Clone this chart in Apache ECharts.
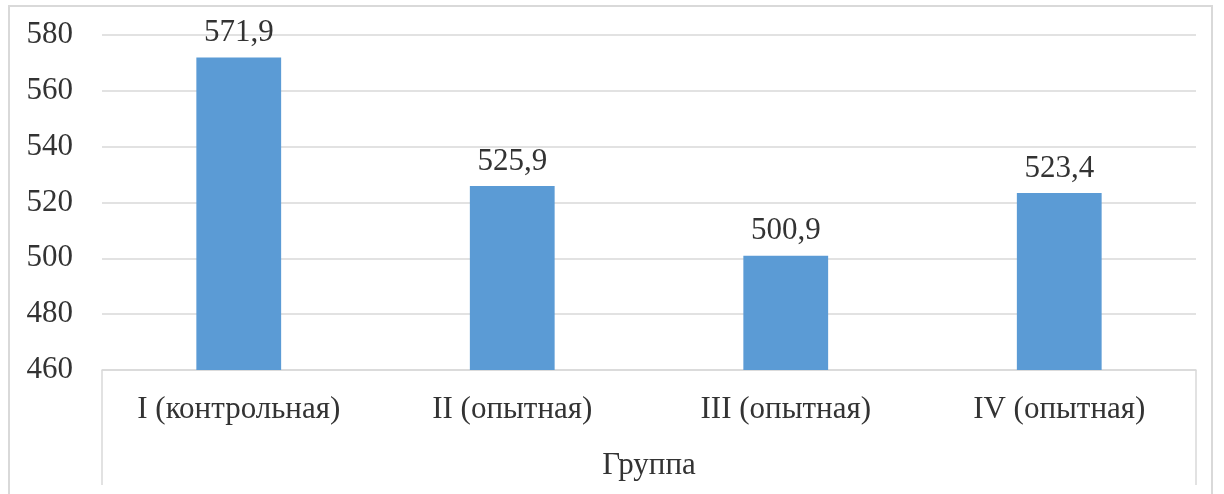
<!DOCTYPE html>
<html><head><meta charset="utf-8">
<script src="https://cdn.jsdelivr.net/npm/echarts@6/dist/echarts.min.js"></script>
<style>
html,body{margin:0;padding:0;background:#fff;}
#frame{position:absolute;left:8px;top:5px;width:1205px;height:520px;border:2px solid #d9d9d9;box-sizing:border-box;}
#c{position:absolute;left:0;top:0;width:1224px;height:494px;}
</style></head>
<body>
<div id="frame"></div>
<div id="c"></div>
<script>
const categories = ['I (контрольная)', 'II (опытная)', 'III (опытная)', 'IV (опытная)'];
const values = [571.9, 525.9, 500.9, 523.4];
const yTicks = { min: 460, max: 580, interval: 20 };
const xName = 'Группа';

const font = '"Liberation Serif", "Times New Roman", serif';
const txt = '#333333';
const chart = echarts.init(document.getElementById('c'));
chart.setOption({
  animation: false,
  grid: { left: 102, right: 28, top: 35, bottom: 124 },
  xAxis: {
    type: 'category', data: categories,
    name: xName, nameLocation: 'middle', nameGap: 80,
    nameTextStyle: { fontFamily: font, fontSize: 31, color: txt },
    axisLine: { show: true, lineStyle: { color: '#d9d9d9', width: 1.5 } },
    axisTick: { show: false },
    axisLabel: { fontFamily: font, fontSize: 31, color: txt, margin: 24 }
  },
  yAxis: {
    type: 'value', min: yTicks.min, max: yTicks.max, interval: yTicks.interval,
    axisLine: { show: false }, axisTick: { show: false },
    axisLabel: { fontFamily: font, fontSize: 31, color: txt, margin: 29 },
    splitLine: { lineStyle: { color: '#d9d9d9', width: 1.5 } }
  },
  series: [{
    type: 'bar', data: values, barWidth: '31%',
    itemStyle: { color: '#5b9bd5' },
    label: {
      show: true, position: 'top', distance: 9,
      fontFamily: font, fontSize: 31, color: txt,
      formatter: p => String(p.value).replace('.', ',')
    }
  }]
});
// vertical separators at the outer edges of the category axis
const y0 = chart.convertToPixel({ yAxisIndex: 0 }, yTicks.min);
const grid = chart.getModel().getComponent('grid').coordinateSystem.getRect();
chart.setOption({
  graphic: [
    { type: 'line', shape: { x1: grid.x, y1: y0, x2: grid.x, y2: y0 + 115 }, style: { stroke: '#d9d9d9', lineWidth: 1.5 } },
    { type: 'line', shape: { x1: grid.x + grid.width, y1: y0, x2: grid.x + grid.width, y2: y0 + 115 }, style: { stroke: '#d9d9d9', lineWidth: 1.5 } }
  ]
});
</script>
</body></html>
